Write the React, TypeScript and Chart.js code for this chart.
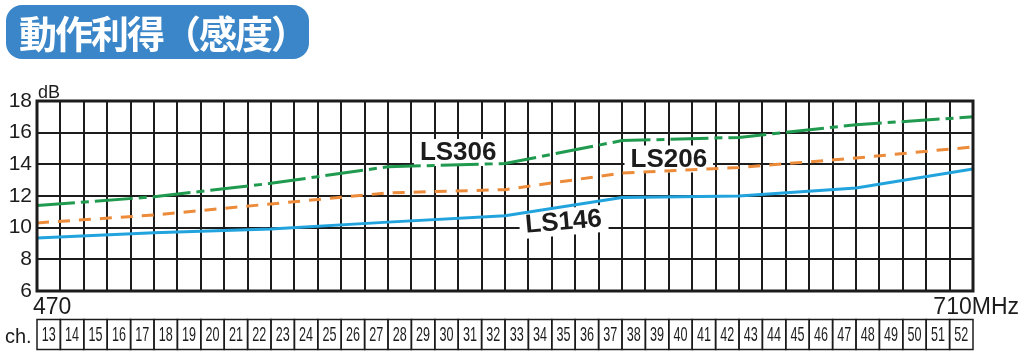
import React, { useEffect, useRef } from "react";
import { Chart, registerables } from "chart.js";

Chart.register(...registerables);

const freqMHz = [470, 500, 530, 560, 590, 620, 650, 680, 710];
const ls146 = [9.35, 9.68, 9.92, 10.35, 10.75, 11.9, 12.0, 12.5, 13.7];
const ls206 = [10.3, 10.8, 11.5, 12.2, 12.4, 13.45, 13.8, 14.4, 15.1];
const ls306 = [11.4, 11.95, 12.8, 13.85, 14.05, 15.5, 15.7, 16.5, 17.0];
const channels = [
  13, 14, 15, 16, 17, 18, 19, 20, 21, 22, 23, 24, 25, 26, 27, 28, 29, 30, 31, 32,
  33, 34, 35, 36, 37, 38, 39, 40, 41, 42, 43, 44, 45, 46, 47, 48, 49, 50, 51, 52,
];
const yTicks = [6, 8, 10, 12, 14, 16, 18];
const seriesNames = ["LS146", "LS206", "LS306"];
const title = "動作利得（感度）";

const GREEN = "#1f9a4e";
const ORANGE = "#ec8b3a";
const BLUE = "#21a3dd";
const INK = "#1c1c1c";

// label annotations in data units (MHz, dB), with rotation in degrees
const labelSpots = [
  { text: seriesNames[2], x: 578, y: 14.78, rot: 0 },
  { text: seriesNames[1], x: 632, y: 14.37, rot: 0 },
  { text: seriesNames[0], x: 605, y: 10.4, rot: -5 },
];

const CH_W = 6;
const FONT = "'Liberation Sans', Arial, Helvetica, sans-serif";

const decorPlugin = {
  id: "decor",
  beforeDatasetsDraw(chart: any) {
    const { ctx } = chart;
    const xs = chart.scales.x;
    const ys = chart.scales.y;
    ctx.save();
    ctx.font = `bold 26px ${FONT}`;
    for (const l of labelSpots) {
      const px = xs.getPixelForValue(l.x);
      const py = ys.getPixelForValue(l.y);
      const w = ctx.measureText(l.text).width + 12;
      ctx.save();
      ctx.translate(px, py);
      ctx.rotate((l.rot * Math.PI) / 180);
      ctx.fillStyle = "#ffffff";
      ctx.fillRect(-w / 2, -13, w, 27);
      ctx.restore();
    }
    ctx.restore();
  },
  afterDatasetsDraw(chart: any) {
    const { ctx, chartArea } = chart;
    const xs = chart.scales.x;
    const ys = chart.scales.y;
    ctx.save();
    // series labels
    ctx.font = `bold 26px ${FONT}`;
    ctx.fillStyle = INK;
    ctx.textAlign = "center";
    ctx.textBaseline = "middle";
    for (const l of labelSpots) {
      const px = xs.getPixelForValue(l.x);
      const py = ys.getPixelForValue(l.y);
      ctx.save();
      ctx.translate(px, py);
      ctx.rotate((l.rot * Math.PI) / 180);
      ctx.fillText(l.text, 0, 1);
      ctx.restore();
    }
    // frame
    ctx.strokeStyle = INK;
    ctx.lineWidth = 3;
    ctx.strokeRect(
      chartArea.left,
      chartArea.top,
      chartArea.right - chartArea.left,
      chartArea.bottom - chartArea.top
    );
    // unit dB
    ctx.textAlign = "left";
    ctx.textBaseline = "alphabetic";
    ctx.font = `18px ${FONT}`;
    ctx.fillText("dB", chartArea.left + 1, chartArea.top - 3);
    // frequency end labels
    ctx.font = `23px ${FONT}`;
    ctx.fillText(String(freqMHz[0]), xs.getPixelForValue(freqMHz[0]) - 4, 314);
    ctx.textAlign = "right";
    ctx.fillText(`${freqMHz[freqMHz.length - 1]}MHz`, 1019, 314);
    // channel row
    ctx.textAlign = "left";
    ctx.font = `20px ${FONT}`;
    ctx.fillText("ch.", 5, 343);
    const top = 319.5;
    const h = 30;
    ctx.lineWidth = 1.5;
    ctx.font = `21px ${FONT}`;
    ctx.textAlign = "center";
    ctx.textBaseline = "middle";
    channels.forEach((c, i) => {
      const x0 = xs.getPixelForValue(freqMHz[0] + i * CH_W);
      const x1 = xs.getPixelForValue(freqMHz[0] + (i + 1) * CH_W);
      ctx.strokeRect(x0, top, x1 - x0, h);
      ctx.save();
      ctx.translate((x0 + x1) / 2, top + h / 2 + 1);
      ctx.scale(0.6, 1);
      ctx.fillText(String(c), 0, 0);
      ctx.restore();
    });
    ctx.restore();
  },
};

export default function App() {
  const ref = useRef<HTMLCanvasElement | null>(null);
  useEffect(() => {
    document.body.style.margin = "0";
    if (!ref.current) return;
    const mk = (vals: number[]) => freqMHz.map((f, i) => ({ x: f, y: vals[i] }));
    const chart = new Chart(ref.current, {
      type: "line",
      data: {
        datasets: [
          {
            label: seriesNames[0],
            data: mk(ls146),
            borderColor: BLUE,
            borderWidth: 3,
            pointRadius: 0,
            tension: 0,
          },
          {
            label: seriesNames[1],
            data: mk(ls206),
            borderColor: ORANGE,
            borderWidth: 3,
            borderDash: [12, 9],
            pointRadius: 0,
            tension: 0,
          },
          {
            label: seriesNames[2],
            data: mk(ls306),
            borderColor: GREEN,
            borderWidth: 3,
            borderDash: [38, 6, 8, 6],
            pointRadius: 0,
            tension: 0,
          },
        ],
      },
      options: {
        animation: false,
        responsive: false,
        maintainAspectRatio: false,
        layout: { padding: { left: 0, top: 101, right: 51, bottom: 67 } },
        plugins: { legend: { display: false }, tooltip: { enabled: false } },
        scales: {
          x: {
            type: "linear",
            min: freqMHz[0],
            max: freqMHz[freqMHz.length - 1],
            ticks: { display: false, stepSize: CH_W },
            grid: { color: INK, lineWidth: 2, drawTicks: false, tickLength: 0 },
            border: { display: false },
            afterFit: (s: any) => {
              s.height = 0;
            },
          },
          y: {
            min: yTicks[0],
            max: yTicks[yTicks.length - 1],
            afterBuildTicks: (s: any) => {
              s.ticks = yTicks.map((v) => ({ value: v }));
            },
            ticks: {
              color: INK,
              padding: 5,
              font: { family: FONT, size: 21 },
            },
            grid: { color: INK, lineWidth: 2, drawTicks: false, tickLength: 0 },
            border: { display: false },
            afterFit: (s: any) => {
              s.width = 37;
            },
          },
        },
      },
      plugins: [decorPlugin],
    });
    return () => chart.destroy();
  }, []);

  return (
    <div style={{ position: "relative", width: 1024, height: 358, background: "#fff" }}>
      <canvas ref={ref} width={1024} height={358} style={{ position: "absolute", left: 0, top: 0 }} />
      <div
        style={{
          position: "absolute",
          left: 6,
          top: 5,
          width: 303,
          height: 54,
          borderRadius: 16,
          background: "#3b86c8",
          color: "#fff",
          fontFamily: "'Noto Sans CJK JP', sans-serif",
          fontWeight: 700,
          fontSize: 38,
          lineHeight: "54px",
          whiteSpace: "nowrap",
          paddingLeft: 13,
          boxSizing: "border-box",
          letterSpacing: -2,
        }}
      >
        {title}
      </div>
    </div>
  );
}
